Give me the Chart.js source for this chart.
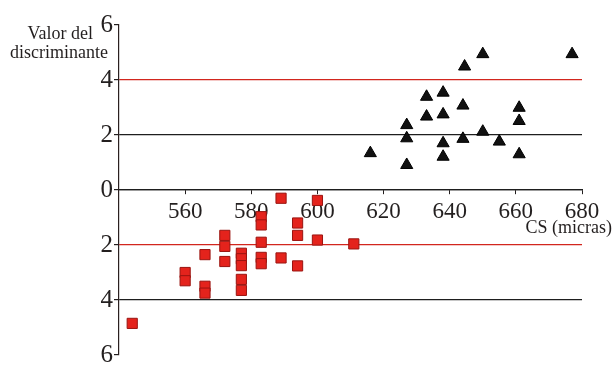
<!DOCTYPE html>
<html>
<head>
<meta charset="utf-8">
<script src="https://cdn.jsdelivr.net/npm/chart.js@4/dist/chart.umd.min.js"></script>
<style>
  html, body { margin: 0; padding: 0; background: #fff; }
  #wrap { width: 615px; height: 365px; position: relative; }
</style>
</head>
<body>
<div id="wrap"><canvas id="c" width="615" height="365"></canvas></div>
<script>
// Group 1 (squares): CS in microns and discriminant value
const group1X = [544, 560, 560, 566, 566, 566, 572, 572, 572, 577, 577, 577, 577, 577,
                 583, 583, 583, 583, 583, 589, 589, 594, 594, 594, 600, 600, 611];
const group1Y = [-4.85, -3.0, -3.3, -2.35, -3.5, -3.75, -1.65, -2.05, -2.6, -2.3, -2.5, -2.75, -3.25, -3.65,
                 -0.97, -1.27, -1.9, -2.45, -2.68, -0.3, -2.47, -1.2, -1.65, -2.76, -0.38, -1.82, -1.96];

// Group 2 (triangles)
const group2X = [616, 627, 627, 627, 633, 633, 638, 638, 638, 638, 644, 644, 644.5, 650, 650, 655, 661, 661, 661, 677];
const group2Y = [1.34, 2.36, 1.88, 0.91, 3.39, 2.67, 3.54, 2.75, 1.7, 1.21, 3.07, 1.86, 4.49, 4.94, 2.12, 1.76, 2.99, 2.51, 1.3, 4.94];

// Axis ticks and labels
const yTickValues = [-6, -4, -2, 0, 2, 4, 6];
const yTickLabels = ['6', '4', '2', '0', '2', '4', '6'];
const xTickValues = [540, 560, 580, 600, 620, 640, 660, 680];
const xTickLabels = ['', '560', '580', '600', '620', '640', '660', '680'];
const yAxisTitle = ['Valor del', 'discriminante'];
const xAxisTitle = 'CS (micras)';

const SERIF = '"Liberation Serif", "DejaVu Serif", serif';
const INK = '#231f1f';

const toPoints = (xs, ys) => xs.map((x, i) => ({ x, y: ys[i] }));

const gridColour = v => {
  if (v === 4 || v === -2) return '#d2261e';
  if (v === 6 || v === -6) return 'rgba(0,0,0,0)';
  return '#1e1e1e';
};

const titles = {
  id: 'titles',
  afterDraw(chart) {
    const ctx = chart.ctx;
    ctx.save();
    ctx.fillStyle = INK;
    ctx.textAlign = 'right';
    ctx.textBaseline = 'alphabetic';
    ctx.font = '18px ' + SERIF;
    ctx.fillText(yAxisTitle[0], 93, 39);
    ctx.fillText(yAxisTitle[1], 108, 58);
    ctx.fillText(xAxisTitle, 612, 233);
    ctx.restore();
  }
};

new Chart(document.getElementById('c'), {
  type: 'scatter',
  data: {
    datasets: [
      {
        label: 'Grupo 1',
        data: toPoints(group1X, group1Y),
        pointStyle: 'rect',
        pointRadius: 7.2,
        pointHoverRadius: 7.2,
        backgroundColor: '#e4231c',
        borderColor: '#9a1410',
        borderWidth: 1
      },
      {
        label: 'Grupo 2',
        data: toPoints(group2X, group2Y),
        pointStyle: 'triangle',
        pointRadius: 7,
        pointHoverRadius: 7,
        backgroundColor: '#111111',
        borderColor: '#000000',
        borderWidth: 1
      }
    ]
  },
  options: {
    responsive: false,
    animation: false,
    events: [],
    layout: { padding: { top: 25, right: 33, bottom: 10, left: 0 } },
    plugins: { legend: { display: false }, tooltip: { enabled: false } },
    scales: {
      x: {
        type: 'linear',
        position: { y: 0 },
        min: 540,
        max: 680,
        afterBuildTicks(scale) { scale.ticks = xTickValues.map(v => ({ value: v })); },
        ticks: {
          color: INK,
          font: { family: SERIF, size: 23 },
          padding: 4,
          maxRotation: 0,
          autoSkip: false,
          callback: (v) => xTickLabels[xTickValues.indexOf(v)]
        },
        grid: {
          drawOnChartArea: false,
          drawTicks: true,
          tickLength: 4,
          tickColor: ctx => (ctx.tick && ctx.tick.value === 540) ? 'rgba(0,0,0,0)' : INK
        },
        border: { display: true, color: '#1e1e1e', width: 1.2 }
      },
      y: {
        type: 'linear',
        min: -6,
        max: 6,
        afterFit(scale) { scale.width = 119; },
        afterBuildTicks(scale) { scale.ticks = yTickValues.map(v => ({ value: v })); },
        ticks: {
          color: INK,
          font: { family: SERIF, size: 25, lineHeight: 0.7 },
          padding: 1,
          autoSkip: false,
          callback: (v) => yTickLabels[yTickValues.indexOf(v)]
        },
        grid: {
          drawTicks: true,
          tickLength: 5,
          lineWidth: 1.2,
          color: ctx => gridColour(ctx.tick ? ctx.tick.value : null),
          tickColor: INK
        },
        border: { display: true, color: '#2a2020', width: 1.2 }
      }
    }
  },
  plugins: [titles]
});
</script>
</body>
</html>
